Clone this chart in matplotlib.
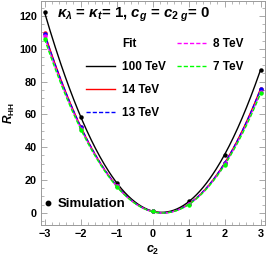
import numpy as np
import matplotlib
matplotlib.use('Agg')
from matplotlib import pyplot as plt
from matplotlib.lines import Line2D
from matplotlib.ticker import MultipleLocator

plt.rcParams['font.family'] = ['Liberation Sans', 'DejaVu Sans']
plt.rcParams['mathtext.fontset'] = 'custom'
plt.rcParams['mathtext.rm'] = 'Liberation Sans:bold'
plt.rcParams['mathtext.it'] = 'Liberation Sans:bold:italic'
plt.rcParams['mathtext.bf'] = 'Liberation Sans:bold'

# simulation points, R_HH vs c2
c2 = [-3, -2, -1, 0, 1, 2, 3]
r_100 = [122.4, 58.7, 18.3, 1.0, 6.9, 35.4, 87.3]
r_14 = [109.7, 52.5, 16.5, 0.9, 5.3, 30.4, 75.8]
r_13 = [109.3, 52.3, 16.4, 0.9, 5.3, 30.2, 75.4]
r_8 = [107.6, 51.4, 16.1, 0.9, 5.1, 29.5, 73.7]
r_7 = [106.3, 50.8, 15.9, 0.9, 5.0, 29.1, 72.8]

energies = ['100 TeV', '14 TeV', '13 TeV', '8 TeV', '7 TeV']
series = [r_100, r_14, r_13, r_8, r_7]
colors = ['black', '#ff0000', '#0000ff', '#ff00ff', '#00ff00']
styles = ['-', '-', '--', '--', '--']

fig = plt.figure(figsize=(2.66, 2.59), dpi=100)
ax = fig.add_axes([0.154, 0.131, 0.842, 0.867])

xx = np.linspace(-3, 3, 200)
handles = []
for name, r, col, ls in zip(energies, series, colors, styles):
    # quadratic fit through the simulation points
    p = np.polyfit(c2, r, 2)
    ln, = ax.plot(xx, np.polyval(p, xx), color=col, linestyle=ls, lw=1.0,
                  dashes=(3, 1.5) if ls == '--' else (None, None))
    ax.plot(c2, r, 'o', color=col, ms=3.2, mec='none')
    handles.append(ln)

ax.set_xlim(-3.1, 3.12)
ax.set_ylim(-7.5, 129.5)
ax.xaxis.set_major_locator(MultipleLocator(1))
ax.xaxis.set_minor_locator(MultipleLocator(0.2))
ax.yaxis.set_major_locator(MultipleLocator(20))
ax.yaxis.set_minor_locator(MultipleLocator(5))
ax.tick_params(which='both', direction='in', top=True, right=True,
               color='#9a9a9a', labelsize=7.8, pad=3)
ax.tick_params(which='major', length=4, width=0.6)
ax.tick_params(which='minor', length=2.2, width=0.5)
for lab in ax.get_xticklabels() + ax.get_yticklabels():
    lab.set_fontweight('bold')
for s in ax.spines.values():
    s.set_color('#9a9a9a')
    s.set_linewidth(0.7)

ax.set_xlabel(r'$c_2$', fontsize=9, labelpad=3)
ax.set_ylabel(r'$R_{\mathrm{HH}}$', fontsize=8.5, labelpad=1.5)

ax.text(0.07, 0.935, r'$\kappa_\lambda$ = $\kappa_t$= 1, $c_g$ = $c_{2\ g}$= 0',
        transform=ax.transAxes, fontsize=10.8, fontweight='bold', va='center')

blank = Line2D([], [], color='none')
leg = ax.legend([blank] + handles + [blank, blank],
                ['Fit'] + energies + ['', ''],
                ncol=2, loc='upper left', bbox_to_anchor=(0.2, 0.834),
                frameon=False, borderpad=0, borderaxespad=0,
                handlelength=2.45, handletextpad=0.6, columnspacing=1.0,
                labelspacing=0.93, prop={'weight': 'bold', 'size': 8.5})
ax.add_artist(leg)

sim = Line2D([], [], marker='o', color='black', ls='none', ms=3.2)
ax.legend([sim], ['Simulation'], loc='lower left', bbox_to_anchor=(0.012, 0.065),
          frameon=False, borderpad=0, borderaxespad=0, handlelength=0.7,
          handletextpad=0.35, prop={'weight': 'bold', 'size': 9.5})

fig.savefig('out.png', dpi=100)
